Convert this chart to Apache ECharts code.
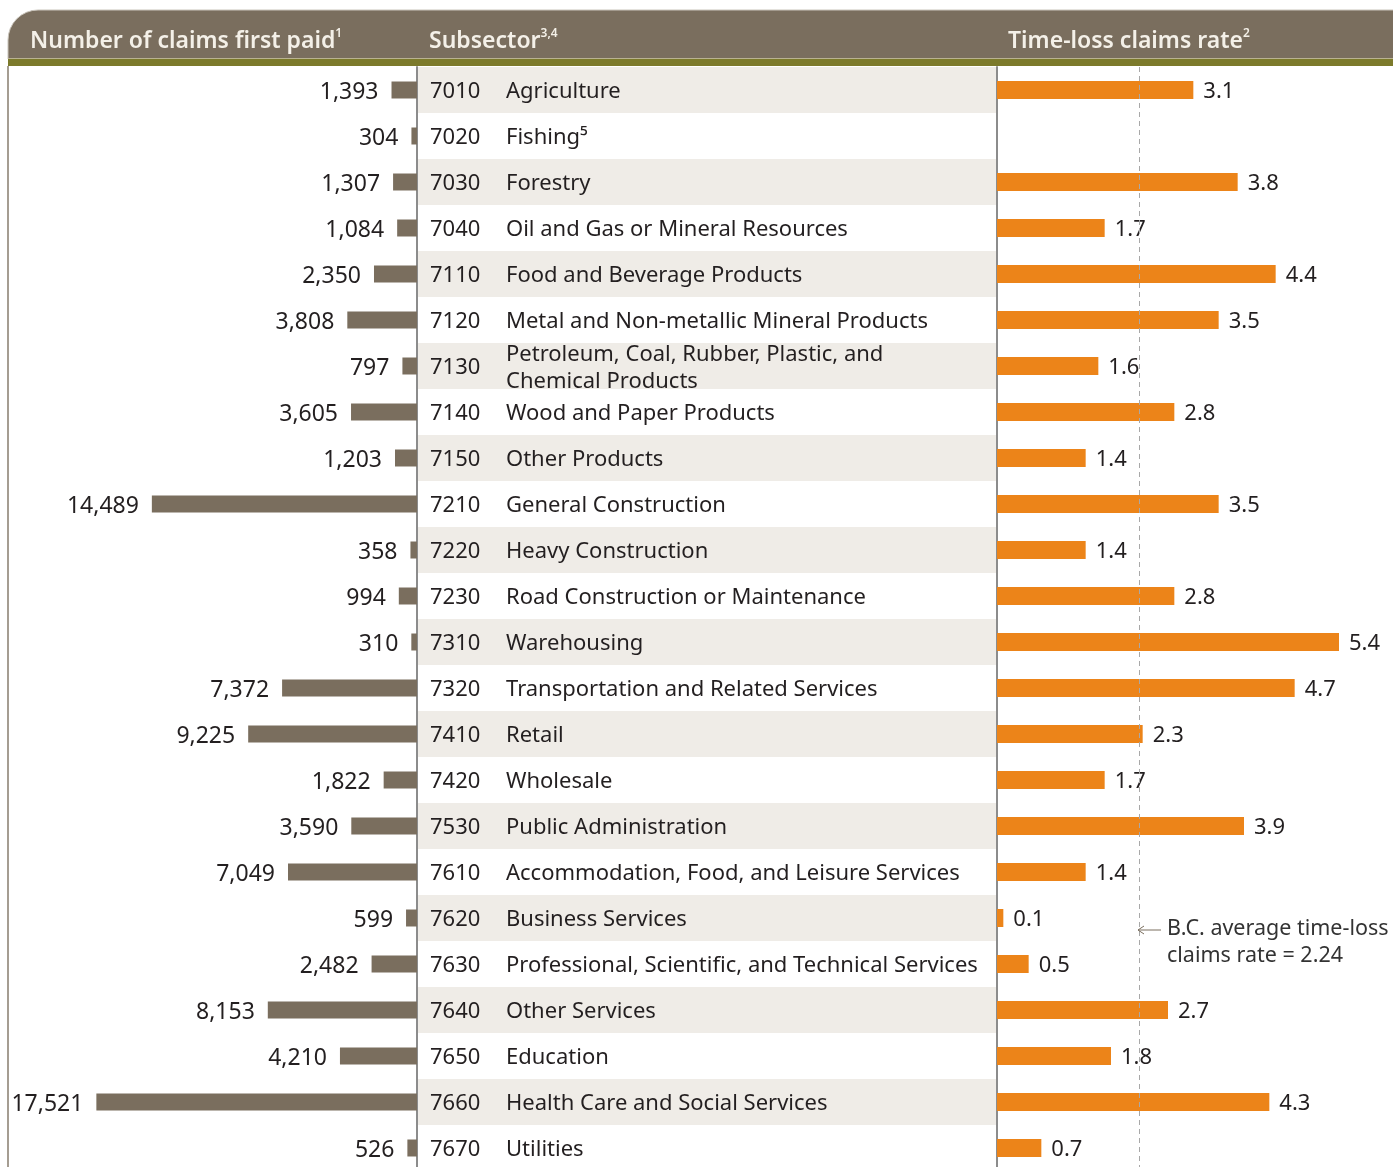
<!DOCTYPE html>
<html>
<head>
<meta charset="utf-8">
<script src="https://cdn.jsdelivr.net/npm/echarts@6/dist/echarts.min.js"></script>
<style>
  html, body { margin: 0; padding: 0; background: #fff; overflow: hidden; }
  #main { width: 1393px; height: 1180px; }
</style>
</head>
<body>
<div id="main"></div>
<script>
// 数据
const codes = ['7010','7020','7030','7040','7110','7120','7130','7140','7150','7210','7220','7230',
  '7310','7320','7410','7420','7530','7610','7620','7630','7640','7650','7660','7670']
const names = ['Agriculture', 'Fishing⁵', 'Forestry', 'Oil and Gas or Mineral Resources',
  'Food and Beverage Products', 'Metal and Non-metallic Mineral Products',
  'Petroleum, Coal, Rubber, Plastic, and\nChemical Products', 'Wood and Paper Products',
  'Other Products', 'General Construction', 'Heavy Construction', 'Road Construction or Maintenance',
  'Warehousing', 'Transportation and Related Services', 'Retail', 'Wholesale', 'Public Administration',
  'Accommodation, Food, and Leisure Services', 'Business Services',
  'Professional, Scientific, and Technical Services', 'Other Services', 'Education',
  'Health Care and Social Services', 'Utilities']
const claims = [1393, 304, 1307, 1084, 2350, 3808, 797, 3605, 1203, 14489, 358, 994,
  310, 7372, 9225, 1822, 3590, 7049, 599, 2482, 8153, 4210, 17521, 526]
const rates = [3.1, '-', 3.8, 1.7, 4.4, 3.5, 1.6, 2.8, 1.4, 3.5, 1.4, 2.8,
  5.4, 4.7, 2.3, 1.7, 3.9, 1.4, 0.1, 0.5, 2.7, 1.8, 4.3, 0.7]
const bcAverage = 2.24

const brown = '#7a6e5e'
const orange = '#ec8419'
const textColor = '#231f20'
const font = 'Noto Sans'

let chart = echarts.init(document.getElementById('main'))

// 三个网格共用同一行高；文字网格下移几像素
// 最后一行超出窗口底部，所以容器比窗口略高
const gridTop = 67
const gridHeight = 46 * codes.length
const textShift = 2

// 表头文字（带上标）
function headerText(x, main, sup) {
  return {
    type: 'text', left: x, top: 28, z: 12,
    style: {
      text: '{t|' + main + '}{s|' + sup + '}',
      rich: {
        t: { fontSize: 23, fontWeight: 600, fill: '#f4f0e8', fontFamily: font, lineHeight: 26 },
        s: { fontSize: 12, fontWeight: 600, fill: '#f4f0e8', fontFamily: font, verticalAlign: 'top', lineHeight: 26 }
      }
    }
  }
}

let option = {
  animation: false,
  textStyle: { fontFamily: font },
  grid: [
    { left: 51, right: 1393 - 417, top: gridTop, height: gridHeight },
    { left: 417, right: 1393 - 997, top: gridTop, height: gridHeight },
    { left: 997, right: 16, top: gridTop, height: gridHeight },
    { left: 417, right: 1393 - 997, top: gridTop + textShift, height: gridHeight }
  ],
  xAxis: [
    { gridIndex: 0, type: 'value', min: 0, max: 20000, inverse: true, show: false },
    { gridIndex: 1, type: 'value', min: 0, max: 1, show: false },
    { gridIndex: 2, type: 'value', min: 0, max: 6, show: false },
    { gridIndex: 3, type: 'value', min: 0, max: 1, show: false }
  ],
  yAxis: [
    { gridIndex: 0, type: 'category', data: codes, inverse: true, show: false },
    {
      gridIndex: 1, type: 'category', data: codes, inverse: true, position: 'left',
      axisLine: { show: true, lineStyle: { color: '#8c8c8c', width: 2 } },
      axisTick: { show: false }, axisLabel: { show: false },
      splitArea: { show: true, areaStyle: { color: ['#efece7', '#ffffff'] } }
    },
    {
      gridIndex: 2, type: 'category', data: codes, inverse: true, position: 'left',
      axisLine: { show: true, lineStyle: { color: '#8c8c8c', width: 2 } },
      axisTick: { show: false }, axisLabel: { show: false }
    },
    {
      gridIndex: 3, type: 'category', data: codes, inverse: true, position: 'left',
      axisLine: { show: false }, axisTick: { show: false },
      axisLabel: { inside: true, margin: 13, fontSize: 22, color: textColor, fontFamily: font }
    },
    {
      gridIndex: 3, type: 'category', data: names, inverse: true, position: 'left',
      axisLine: { show: false }, axisTick: { show: false },
      axisLabel: { inside: true, margin: 89, fontSize: 22, lineHeight: 27, color: textColor, fontFamily: font }
    }
  ],
  series: [
    {
      type: 'bar', xAxisIndex: 0, yAxisIndex: 0, data: claims, barWidth: 17,
      itemStyle: { color: brown },
      label: {
        show: true, position: 'left', distance: 13, offset: [0, 2], fontSize: 23, color: textColor, fontFamily: font,
        formatter: p => p.value.toLocaleString('en-US')
      }
    },
    {
      type: 'bar', xAxisIndex: 2, yAxisIndex: 2, data: rates, barWidth: 18,
      itemStyle: { color: orange },
      label: {
        show: true, position: 'right', distance: 10, offset: [0, 2], fontSize: 22, color: textColor, fontFamily: font,
        formatter: p => p.value.toFixed(1)
      },
      markLine: {
        silent: true, symbol: 'none', label: { show: false },
        lineStyle: { color: '#a8a8a8', type: [5, 4], width: 1 },
        data: [{ xAxis: bcAverage }]
      }
    }
  ],
  graphic: [
    // 表头
    {
      type: 'rect', shape: { x: 8, y: 10, width: 1400, height: 49, r: [30, 0, 0, 0] },
      style: { fill: brown, stroke: '#c9c4bb', lineWidth: 1 }, z: 10
    },
    { type: 'rect', shape: { x: 8, y: 58, width: 1400, height: 1 }, style: { fill: '#b9b291' }, z: 11 },
    { type: 'rect', shape: { x: 8, y: 59, width: 1400, height: 7 }, style: { fill: '#7c7a2b' }, z: 11 },
    { type: 'rect', shape: { x: 7, y: 66, width: 2, height: 1120 }, style: { fill: '#a59d92' }, z: 11 },
    headerText(30, 'Number of claims first paid', '1'),
    headerText(429, 'Subsector', '3,4'),
    headerText(1008, 'Time-loss claims rate', '2'),
    // 平均值注释
    { type: 'line', shape: { x1: 1138, y1: 930, x2: 1161, y2: 930 }, style: { stroke: brown, lineWidth: 1 }, z: 12 },
    { type: 'polyline', shape: { points: [[1144, 926], [1138, 930], [1144, 934]] }, style: { stroke: brown, fill: null, lineWidth: 1 }, z: 12 },
    {
      type: 'text', left: 1167, top: 915, z: 12,
      style: {
        text: 'B.C. average time-loss\nclaims rate = 2.24',
        fontSize: 21.5, lineHeight: 27, fill: '#333', fontFamily: font
      }
    }
  ]
}
chart.setOption(option)
</script>
</body>
</html>
